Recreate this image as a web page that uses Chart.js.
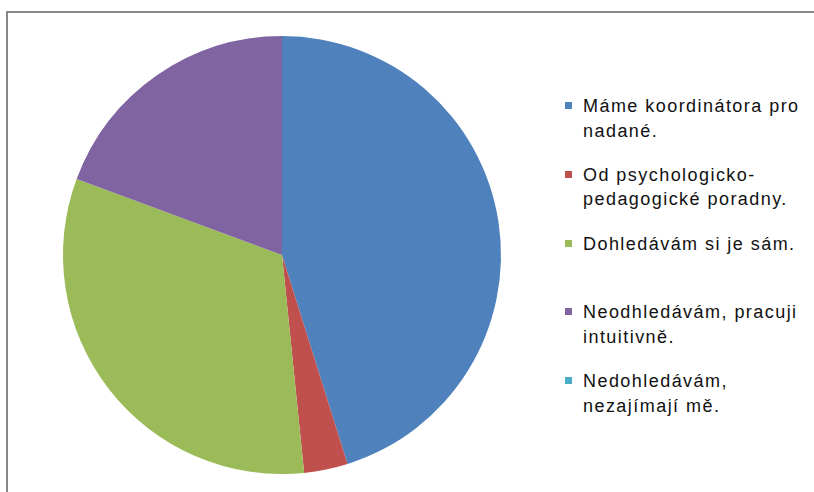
<!DOCTYPE html>
<html>
<head>
<meta charset="utf-8">
<script src="https://cdn.jsdelivr.net/npm/chart.js@4"></script>
<style>
  body { margin: 0; background: #fff; }
  #wrap { position: relative; width: 814px; height: 492px; overflow: hidden; background: #fff; }
  #frame { position: absolute; left: 6px; top: 11px; width: 840px; height: 520px; border: 2px solid #878787; box-sizing: border-box; }
  #pie { position: absolute; left: 0; top: 0; }
  #legend { position: absolute; left: 565px; top: 0; font-family: "Liberation Sans", Arial, sans-serif; font-size: 18px; letter-spacing: 1.45px; color: #111; }
  .item { position: absolute; left: 0; white-space: nowrap; line-height: 24.5px; }
  .box { position: absolute; left: 0; top: 8px; width: 7px; height: 7px; }
  .txt { position: absolute; left: 18px; top: 0; }
</style>
</head>
<body>
<div id="wrap">
  <div id="frame"></div>
  <canvas id="pie" width="564" height="492"></canvas>
  <div id="legend"></div>
</div>
<script>
// legend labels (line breaks as in the original legend)
const categories = [
  ["Máme koordinátora pro", "nadané."],
  ["Od psychologicko-", "pedagogické poradny."],
  ["Dohledávám si je sám."],
  ["Neodhledávám, pracuji", "intuitivně."],
  ["Nedohledávám,", "nezajímají mě."]
];
// answer counts
const counts = [14, 1, 10, 6, 0];
const colors = ["#4f81bd", "#c0504d", "#9bbb59", "#8064a2", "#4bacc6"];

new Chart(document.getElementById("pie").getContext("2d"), {
  type: "pie",
  data: {
    labels: categories.map(l => l.join(" ")),
    datasets: [{
      data: counts,
      backgroundColor: colors,
      borderWidth: 0
    }]
  },
  options: {
    responsive: false,
    animation: false,
    layout: { padding: { top: 36, bottom: 18, left: 0, right: 0 } },
    plugins: {
      legend: { display: false },
      tooltip: { enabled: false }
    }
  }
});

// legend on the right, one slot per category
const legend = document.getElementById("legend");
categories.forEach((lines, i) => {
  const item = document.createElement("div");
  item.className = "item";
  item.style.top = (94 + i * 68.8) + "px";
  const box = document.createElement("div");
  box.className = "box";
  box.style.background = colors[i];
  const txt = document.createElement("div");
  txt.className = "txt";
  txt.innerHTML = lines.join("<br>");
  item.appendChild(box);
  item.appendChild(txt);
  legend.appendChild(item);
});
</script>
</body>
</html>
